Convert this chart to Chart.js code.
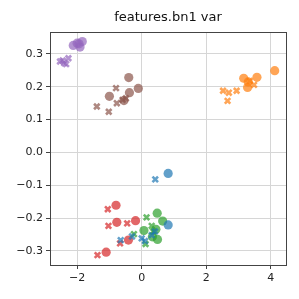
<!DOCTYPE html>
<html>
<head>
<meta charset="utf-8">
<script src="https://cdn.jsdelivr.net/npm/chart.js@4/dist/chart.umd.min.js"></script>
<style>
  html, body { margin: 0; padding: 0; background: #fff; }
  canvas { display: block; }
</style>
</head>
<body>
<canvas id="chart" width="299" height="299"></canvas>
<script>
// circles and crosses for each of the six groups, [x, y]
const blueDots = [[0.82, -0.064], [0.82, -0.221]];
const blueCrosses = [[0.42, -0.082], [-0.65, -0.267], [-0.3, -0.256], [0.0, -0.262], [0.10, -0.27], [0.31, -0.252], [0.41, -0.241]];
const orangeDots = [[4.12, 0.249], [3.16, 0.226], [3.57, 0.229], [3.28, 0.198], [3.3, 0.215]];
const orangeCrosses = [[2.52, 0.188], [2.70, 0.182], [2.94, 0.188], [2.66, 0.157], [3.48, 0.206], [3.35, 0.218]];
const greenDots = [[0.48, -0.185], [0.65, -0.209], [0.44, -0.234], [0.49, -0.265], [0.07, -0.238], [0.33, -0.257]];
const greenCrosses = [[0.15, -0.198], [0.31, -0.224], [-0.24, -0.249], [0.12, -0.279], [0.36, -0.241]];
const redDots = [[-0.795, -0.161], [-0.77, -0.213], [-0.19, -0.208], [-0.41, -0.267], [-1.10, -0.304]];
const redCrosses = [[-1.05, -0.173], [-1.03, -0.224], [-0.45, -0.216], [-0.67, -0.277], [-1.37, -0.313]];
const purpleDots = [[-2.12, 0.326], [-1.94, 0.331], [-1.84, 0.338], [-1.91, 0.321], [-2.0, 0.333]];
const purpleCrosses = [[-2.53, 0.277], [-2.40, 0.272], [-2.27, 0.287], [-2.34, 0.269], [-2.45, 0.28]];
const brownDots = [[-0.40, 0.228], [-0.105, 0.195], [-0.38, 0.182], [-1.0, 0.171], [-0.55, 0.158]];
const brownCrosses = [[-0.795, 0.196], [-1.39, 0.140], [-1.02, 0.124], [-0.77, 0.150], [-0.59, 0.160], [-0.49, 0.165]];

const xRange = [-2.84, 4.47];
const yRange = [-0.343, 0.367];
const titleText = 'features.bn1 var';

const colors = {
  blue: 'rgba(31,119,180,0.7)',
  orange: 'rgba(255,127,14,0.7)',
  green: 'rgba(44,160,44,0.7)',
  red: 'rgba(214,39,40,0.7)',
  purple: 'rgba(148,103,189,0.7)',
  brown: 'rgba(140,86,75,0.7)'
};

function toPts(arr) {
  return arr.map(p => ({ x: p[0], y: p[1] }));
}

function dots(arr, c) {
  return {
    data: toPts(arr), pointStyle: 'circle', pointRadius: 4.6,
    backgroundColor: c, borderColor: c, borderWidth: 0
  };
}

function crosses(arr, c) {
  return {
    data: toPts(arr), pointStyle: 'crossRot', pointRadius: 3.9,
    backgroundColor: c, borderColor: c, borderWidth: 2.6
  };
}

const minus = s => s.replace('-', '\u2212');

// axes frame on all four sides, plus the title centred over the plot
const frame = {
  id: 'frame',
  afterDraw(chart) {
    const a = chart.chartArea, ctx = chart.ctx;
    ctx.save();
    ctx.strokeStyle = '#444';
    ctx.lineWidth = 1;
    ctx.strokeRect(Math.round(a.left) + 0.5, Math.round(a.top) + 0.5,
      Math.round(a.right - a.left), Math.round(a.bottom - a.top));
    ctx.fillStyle = '#111';
    ctx.font = '13px "DejaVu Sans"';
    ctx.textAlign = 'center';
    ctx.textBaseline = 'middle';
    ctx.fillText(titleText, (a.left + a.right) / 2, 18);
    ctx.restore();
  }
};

new Chart(document.getElementById('chart').getContext('2d'), {
  type: 'scatter',
  data: {
    datasets: [
      dots(blueDots, colors.blue), crosses(blueCrosses, colors.blue),
      dots(orangeDots, colors.orange), crosses(orangeCrosses, colors.orange),
      dots(greenDots, colors.green), crosses(greenCrosses, colors.green),
      dots(redDots, colors.red), crosses(redCrosses, colors.red),
      dots(purpleDots, colors.purple), crosses(purpleCrosses, colors.purple),
      dots(brownDots, colors.brown), crosses(brownCrosses, colors.brown)
    ]
  },
  options: {
    responsive: false,
    animation: false,
    layout: { padding: { left: 0, right: 13, top: 32, bottom: 0 } },
    plugins: {
      legend: { display: false },
      tooltip: { enabled: false },
      title: { display: false }
    },
    scales: {
      x: {
        min: xRange[0], max: xRange[1],
        afterFit(s) { s.height = 34; },
        ticks: {
          stepSize: 2, includeBounds: false, padding: 3,
          color: '#222', font: { family: 'DejaVu Sans', size: 11 },
          callback: v => minus(String(Math.round(v)))
        },
        grid: { color: '#d6d6d6', tickColor: '#444', tickLength: 4, lineWidth: 1 },
        border: { color: '#444', width: 1 }
      },
      y: {
        min: yRange[0], max: yRange[1],
        afterFit(s) { s.width = 50; },
        ticks: {
          stepSize: 0.1, includeBounds: false, padding: 3,
          color: '#222', font: { family: 'DejaVu Sans', size: 11 },
          callback: v => {
            const t = Math.abs(v) < 1e-9 ? '0.0' : v.toFixed(1);
            return minus(t);
          }
        },
        grid: { color: '#d6d6d6', tickColor: '#444', tickLength: 4, lineWidth: 1 },
        border: { color: '#444', width: 1 }
      }
    }
  },
  plugins: [frame]
});
</script>
</body>
</html>
